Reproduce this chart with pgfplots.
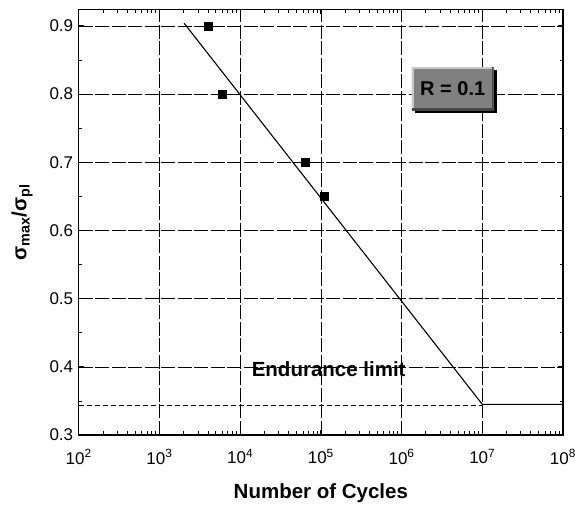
\documentclass[border=0pt]{standalone}
\usepackage{pgfplots}
\pgfplotsset{compat=1.18}
\usepackage{fontspec}
\setmainfont{Liberation Sans}
\usetikzlibrary{shadows}
\definecolor{boxgray}{RGB}{128,128,128}
\definecolor{boxlight}{RGB}{200,200,200}
\definecolor{boxdark}{RGB}{70,70,70}
\begin{document}
\begin{tikzpicture}
\begin{axis}[
  scale only axis,
  width=484.3pt, height=425.5pt,
  xmode=log, log basis x=10,
  xmin=1e2, xmax=1e8,
  ymin=0.3, ymax=0.924,
  xtick={1e2,1e3,1e4,1e5,1e6,1e7,1e8},
  xticklabels={10\textsuperscript{2},10\textsuperscript{3},10\textsuperscript{4},10\textsuperscript{5},10\textsuperscript{6},10\textsuperscript{7},10\textsuperscript{8}},
  minor xtick={2e2,3e2,4e2,5e2,6e2,7e2,8e2,9e2,
               2e3,3e3,4e3,5e3,6e3,7e3,8e3,9e3,
               2e4,3e4,4e4,5e4,6e4,7e4,8e4,9e4,
               2e5,3e5,4e5,5e5,6e5,7e5,8e5,9e5,
               2e6,3e6,4e6,5e6,6e6,7e6,8e6,9e6,
               2e7,3e7,4e7,5e7,6e7,7e7,8e7,9e7},
  ytick={0.3,0.4,0.5,0.6,0.7,0.8,0.9},
  minor ytick={0.35,0.45,0.55,0.65,0.75,0.85},
  yticklabel style={/pgf/number format/fixed,/pgf/number format/precision=1,/pgf/number format/fixed zerofill, xshift=-2pt},
  /pgf/number format/assume math mode=true,
  tick label style={font=\fontsize{17}{19}\selectfont},
  xticklabel style={yshift=-11pt},
  major tick length=5pt, minor tick length=3.5pt,
  tick style={black, line width=0.8pt},
  axis line style={line width=1.3pt},
  grid=major,
  major grid style={black, line width=0.6pt, dash pattern=on 14pt off 2.5pt},
  xlabel={\textbf{Number of Cycles}},
  ylabel={\textbf{σ\textsubscript{max}/σ\textsubscript{pl}}},
  label style={font=\fontsize{20.5}{22}\selectfont},
  xlabel style={yshift=-12pt},
  ylabel style={yshift=10pt},
  clip=false,
]
\addplot[only marks, mark=square*, mark size=4pt, black] coordinates {
  (4000,0.9) (6000,0.8) (64000,0.7) (110000,0.65)
};
\addplot[black, line width=1.1pt] coordinates {
  (2020,0.904) (1e7,0.345) (1e8,0.345)
};
\addplot[black, line width=0.7pt, dash pattern=on 5pt off 3pt] coordinates {
  (1e2,0.343) (1e7,0.343)
};
\node[font=\bfseries\fontsize{20.5}{22}\selectfont] at (axis cs:1.25e5,0.397) {Endurance limit};
\node[fill=boxgray, minimum width=82pt, minimum height=43pt,
  drop shadow={shadow xshift=3pt, shadow yshift=-3pt, fill=black, opacity=1},
  font=\bfseries\fontsize{20}{22}\selectfont, inner sep=0pt,
  path picture={
    \draw[line width=4pt, boxlight] (path picture bounding box.south west) -- (path picture bounding box.north west) -- (path picture bounding box.north east);
    \draw[line width=4pt, boxdark] (path picture bounding box.south west) -- (path picture bounding box.south east) -- (path picture bounding box.north east);
  }] at (axis cs:4.3e6,0.808) {R = 0.1};
\end{axis}
\pgfresetboundingbox
\path (current axis.south west) ++(-78.7pt,-70pt) rectangle ++(575pt,505pt);
\end{tikzpicture}
\end{document}
